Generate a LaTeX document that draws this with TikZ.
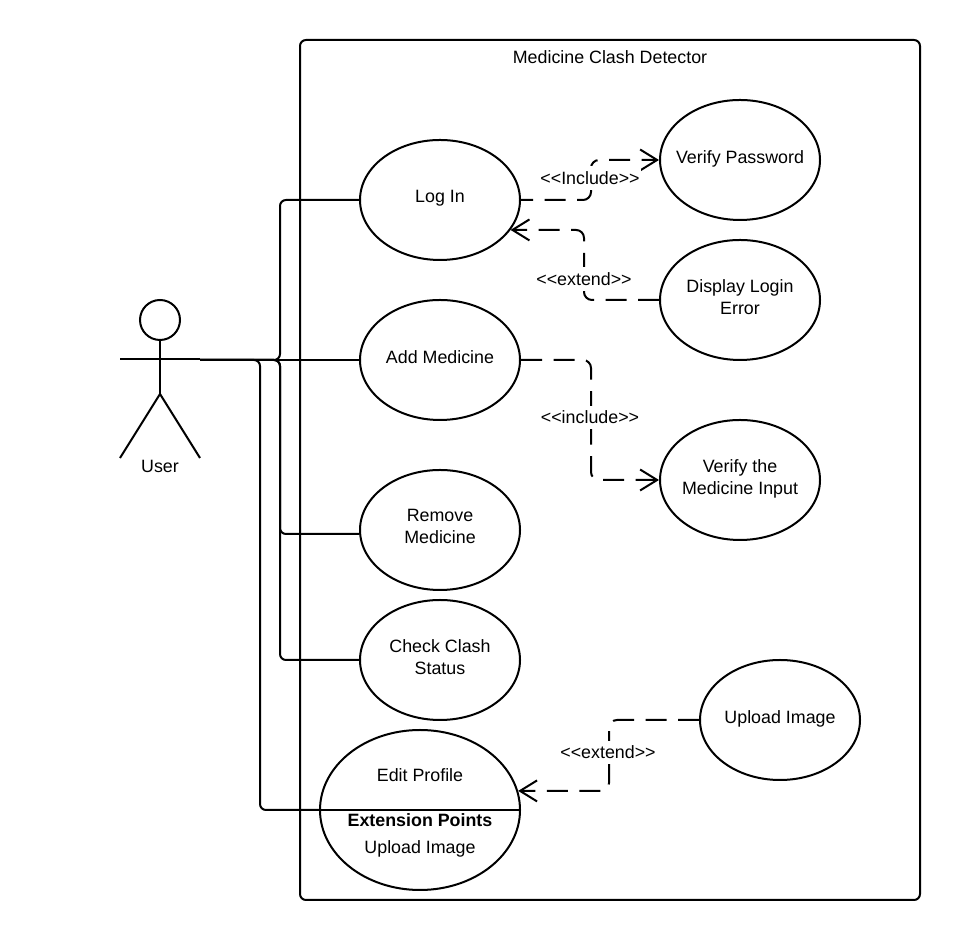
\documentclass[tikz,border=0pt]{standalone}
\usepackage{fontspec}
\setmainfont{Liberation Sans}
\usetikzlibrary{arrows.meta,shapes.geometric,positioning}
\tikzset{
usecase/.style={draw=black,line width=0.04cm,ellipse,minimum width=3.2cm,minimum height=2.4cm,inner xsep=-0.4cm,inner ysep=-0.1cm,align=center,text depth=3.6pt,font=\fontsize{10.15pt}{12.5pt}\selectfont},
txt/.style={inner sep=0pt,font=\fontsize{10.15pt}{12.5pt}\selectfont},
assoc/.style={black,line width=0.04cm,rounded corners=0.12cm},
dep/.style={black,line width=0.04cm,rounded corners=0.16cm,dash pattern=on 0.42cm off 0.23cm,-{Straight Barb[length=0.34cm,width=0.42cm]}},
deplabel/.style={txt,fill=white,inner xsep=1pt,inner ysep=3pt}
}
\begin{document}
\begin{tikzpicture}
\useasboundingbox (0cm,0cm) rectangle (19.2cm,18.8cm);
\draw[black,line width=0.04cm,rounded corners=0.12cm] (6cm,0.8cm) rectangle (18.4cm,18cm);
\node[txt] (title) at (12.2cm,17.66cm) {Medicine Clash Detector};
% actor
\node[draw=black,line width=0.04cm,circle,minimum size=0.8cm,inner sep=0pt] (head) at (3.2cm,12.4cm) {};
\coordinate (hip) at (3.2cm,10.92cm);
\coordinate (arml) at (2.4cm,11.62cm);
\coordinate (armr) at (4cm,11.6cm);
\coordinate (footl) at (2.4cm,9.64cm);
\coordinate (footr) at (4cm,9.64cm);
\draw[black,line width=0.04cm] (head.south) -- (hip);
\draw[black,line width=0.04cm] (arml) -- (4cm,11.62cm);
\draw[black,line width=0.04cm] (footl) -- (hip) -- (footr);
\node[txt] (user) at (3.2cm,9.48cm) {User};
% use cases
\node[usecase] (login) at (8.8cm,14.8cm) {Log In};
\node[usecase] (addmed) at (8.8cm,11.6cm) {Add Medicine};
\node[usecase] (removemed) at (8.8cm,8.2cm) {Remove\\Medicine};
\node[usecase] (checkclash) at (8.8cm,5.6cm) {Check Clash\\Status};
\node[usecase,minimum width=4cm,minimum height=3.2cm] (editprofile) at (8.4cm,2.6cm) {};
\node[usecase] (verifypass) at (14.8cm,15.6cm) {Verify Password};
\node[usecase] (loginerror) at (14.8cm,12.8cm) {Display Login\\Error};
\node[usecase] (verifyinput) at (14.8cm,9.2cm) {Verify the\\Medicine Input};
\node[usecase] (uploadimg) at (15.6cm,4.4cm) {Upload Image};
\draw[black,line width=0.04cm] (editprofile.west) -- (editprofile.east);
\node[txt] (editname) at (8.4cm,3.3cm) {Edit Profile};
\node[txt,font=\fontsize{10.15pt}{12.5pt}\selectfont\bfseries] (extpoints) at (8.4cm,2.4cm) {Extension Points};
\node[txt] (extupload) at (8.4cm,1.82cm) {Upload Image};
% user lines
\draw[assoc] (armr) -- ++(1.6cm,0) |- (login.west);
\draw[assoc] (armr) -- (addmed.west);
\draw[assoc] (armr) -- ++(1.6cm,0) |- ([yshift=-0.08cm]removemed.west);
\draw[assoc] (armr) -- ++(1.6cm,0) |- (checkclash.west);
\draw[assoc] (armr) -- ++(1.2cm,0) |- (editprofile.west);
% dashed lines
\draw[dep,dash phase=0.18cm] (login.east) -- ++(1.4cm,0) |- (verifypass.west);
\draw[dep] (loginerror.west) -- ++(-1.5cm,0) |- (login.-23.5);
\draw[dep] (addmed.east) -- ++(1.4cm,0) |- (verifyinput.west);
\draw[dep] (uploadimg.west) -- ++(-1.8cm,0) |- (editprofile.11.6);
\node[deplabel] (lblinclude) at (11.8cm,15.24cm) {<{}<Include>{}>};
\node[deplabel] (lblextend) at (11.68cm,13.22cm) {<{}<extend>{}>};
\node[deplabel] (lblincludeb) at (11.8cm,10.45cm) {<{}<include>{}>};
\node[deplabel] (lblextendb) at (12.16cm,3.75cm) {<{}<extend>{}>};
\end{tikzpicture}
\end{document}
